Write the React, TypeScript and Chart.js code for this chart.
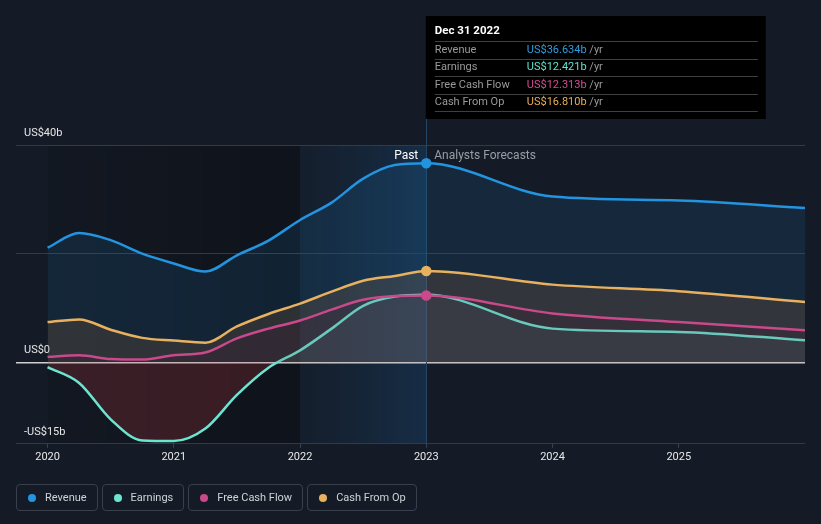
import React, { useEffect, useRef } from 'react';
import { Chart, registerables } from 'chart.js';

Chart.register(...registerables);

// ---- data ----
const years = [2020, 2020.25, 2020.5, 2020.75, 2021, 2021.25, 2021.5, 2021.75, 2022, 2022.25, 2022.5, 2022.75, 2023, 2024, 2025, 2026];
const revenue = [21.1, 23.8, 22.5, 20.0, 18.2, 16.7, 19.7, 22.4, 26.2, 29.4, 33.8, 36.3, 36.634, 30.5, 29.8, 28.4];
const earnings = [-0.9, -3.8, -10.5, -14.4, -14.5, -12.2, -6.0, -1.0, 2.2, 6.2, 10.4, 12.1, 12.421, 6.2, 5.6, 4.05];
const freeCashFlow = [1.0, 1.3, 0.6, 0.5, 1.3, 1.8, 4.4, 6.2, 7.7, 9.7, 11.5, 12.2, 12.313, 9.0, 7.4, 5.9];
const cashFromOp = [7.4, 7.9, 6.0, 4.5, 4.0, 3.6, 6.6, 8.9, 10.8, 13.0, 15.0, 15.9, 16.81, 14.3, 13.1, 11.1];

const xTickYears = [2020, 2021, 2022, 2023, 2024, 2025];
const yTickValues = [-15, 0, 20, 40];
const yTickLabels = ['-US$15b', 'US$0', '', 'US$40b'];

const seriesNames = ['Revenue', 'Earnings', 'Free Cash Flow', 'Cash From Op'];
const seriesColors = ['#2394df', '#6ce5d0', '#c9498b', '#e8b160'];
const tooltipTitle = 'Dec 31 2022';
const tooltipValues = ['US$36.634b', 'US$12.421b', 'US$12.313b', 'US$16.810b'];
const tooltipValueColors = ['#2d9ee0', '#5fe3cb', '#d24e93', '#e9ae55'];

const pastStart = 2020;
const highlightStart = 2022;
const highlightEnd = 2023;

const BG = '#151b26';

const decorPlugin = {
  id: 'decor',
  beforeDraw(chart: any) {
    const { ctx, chartArea: a, scales } = chart;
    const x = scales.x;
    const x0 = x.getPixelForValue(pastStart);
    const x1 = x.getPixelForValue(highlightStart);
    const x2 = x.getPixelForValue(highlightEnd);
    ctx.save();
    const g = ctx.createLinearGradient(x0, 0, x1, 0);
    g.addColorStop(0, 'rgba(0,0,0,0.10)');
    g.addColorStop(1, 'rgba(0,0,0,0.28)');
    ctx.fillStyle = g;
    ctx.fillRect(x0, a.top, x1 - x0, a.bottom - a.top);
    const h = ctx.createLinearGradient(x1, 0, x2, 0);
    h.addColorStop(0, 'rgba(25,100,170,0.05)');
    h.addColorStop(1, 'rgba(30,120,200,0.20)');
    ctx.fillStyle = h;
    ctx.fillRect(x1, a.top, x2 - x1, a.bottom - a.top);
    ctx.restore();
  },
  beforeDatasetsDraw(chart: any) {
    const { ctx, chartArea: a } = chart;
    const x2 = Math.round(chart.scales.x.getPixelForValue(highlightEnd)) + 0.5;
    ctx.save();
    ctx.strokeStyle = '#244563';
    ctx.lineWidth = 1;
    ctx.beginPath();
    ctx.moveTo(x2, 119);
    ctx.lineTo(x2, a.bottom);
    ctx.stroke();
    ctx.restore();
  },
  afterDraw(chart: any) {
    const { ctx, scales } = chart;
    const x2 = scales.x.getPixelForValue(highlightEnd);
    const yTop = scales.y.getPixelForValue(40);
    ctx.save();
    ctx.textBaseline = 'middle';
    ctx.font = '12px Roboto';
    ctx.fillStyle = '#ffffff';
    ctx.textAlign = 'right';
    ctx.fillText('Past', x2 - 8, yTop + 11);
    ctx.fillStyle = '#9a9ea6';
    ctx.textAlign = 'left';
    ctx.fillText('Analysts Forecasts', x2 + 8, yTop + 11);

    // tooltip box
    const bx = x2 - 0.5;
    const by = 16;
    const bw = 340;
    const bh = 103;
    ctx.fillStyle = '#000000';
    ctx.fillRect(bx, by, bw, bh);
    ctx.font = 'bold 11.5px Roboto';
    ctx.fillStyle = '#ffffff';
    ctx.fillText(tooltipTitle, bx + 9, 31);
    ctx.strokeStyle = '#3f3f3f';
    ctx.lineWidth = 1;
    for (let i = 0; i < 5; i++) {
      const ly = Math.round(41 + i * 17.5) + 0.5;
      ctx.beginPath();
      ctx.moveTo(bx + 9, ly);
      ctx.lineTo(bx + bw - 8, ly);
      ctx.stroke();
    }
    ctx.font = '11px Roboto';
    for (let i = 0; i < 4; i++) {
      const ty = 49.8 + i * 17.5;
      ctx.fillStyle = '#9a9a9a';
      ctx.fillText(seriesNames[i], bx + 9, ty);
      ctx.fillStyle = tooltipValueColors[i];
      ctx.fillText(tooltipValues[i], bx + 101, ty);
      const w = ctx.measureText(tooltipValues[i] + ' ').width;
      ctx.fillStyle = '#9a9a9a';
      ctx.fillText('/yr', bx + 101 + w, ty);
    }
    ctx.restore();
  },
};

const toPoints = (vals: number[]) => vals.map((v, i) => ({ x: years[i], y: v }));

export default function App() {
  const ref = useRef<HTMLCanvasElement>(null);

  useEffect(() => {
    if (!ref.current) return;
    Chart.defaults.font.family = 'Roboto';
    const pointR = (r: number) => (c: any) => (c.raw && c.raw.x === highlightEnd ? r : 0);
    const chart = new Chart(ref.current, {
      type: 'line',
      data: {
        datasets: [
          {
            label: seriesNames[0],
            data: toPoints(revenue),
            borderColor: seriesColors[0],
            backgroundColor: 'rgba(35,148,223,0.12)',
            pointBackgroundColor: seriesColors[0],
            fill: 'origin',
            order: 4,
            pointRadius: pointR(4.5),
          },
          {
            label: seriesNames[3],
            data: toPoints(cashFromOp),
            borderColor: seriesColors[3],
            backgroundColor: 'rgba(240,150,60,0.13)',
            pointBackgroundColor: seriesColors[3],
            fill: 'origin',
            order: 3,
            pointRadius: pointR(4.5),
          },
          {
            label: seriesNames[1],
            data: toPoints(earnings),
            borderColor: seriesColors[1],
            backgroundColor: 'rgba(100,190,180,0.1)',
            fill: { target: 'origin', above: 'rgba(100,190,180,0.1)', below: 'rgba(220,60,65,0.2)' },
            order: 2,
            pointRadius: 0,
          },
          {
            label: seriesNames[2],
            data: toPoints(freeCashFlow),
            borderColor: seriesColors[2],
            backgroundColor: 'rgba(80,0,50,0.12)',
            pointBackgroundColor: seriesColors[2],
            fill: 'origin',
            order: 1,
            pointRadius: pointR(4.5),
          },
        ] as any,
      },
      options: {
        animation: false,
        responsive: false,
        maintainAspectRatio: false,
        layout: { padding: { left: 0, right: 16, top: 145, bottom: 57 } },
        elements: {
          line: { borderWidth: 2.5, cubicInterpolationMode: 'monotone' },
          point: { borderColor: '#ffffff', borderWidth: 1.5, hoverRadius: 0, hitRadius: 0 },
        },
        plugins: {
          legend: { display: false },
          tooltip: { enabled: false },
        },
        events: [],
        scales: {
          x: {
            type: 'linear',
            min: 2019.75,
            max: 2026,
            afterBuildTicks: (s: any) => {
              s.ticks = xTickYears.map((v) => ({ value: v }));
            },
            ticks: {
              color: '#e8e8e8',
              font: { size: 11 },
              padding: 3,
              maxRotation: 0,
              callback: (v: any) => String(v),
            },
            grid: {
              drawOnChartArea: false,
              drawTicks: true,
              tickLength: 4,
              color: '#3d434c',
            },
            border: { display: false },
          },
          y: {
            type: 'linear',
            min: -15,
            max: 40,
            afterBuildTicks: (s: any) => {
              s.ticks = yTickValues.map((v) => ({ value: v }));
            },
            ticks: {
              mirror: true,
              padding: 8,
              labelOffset: -12,
              color: '#e6e6e6',
              font: { size: 11 },
              callback: (v: any) => {
                const i = yTickValues.indexOf(Number(v));
                return i >= 0 ? yTickLabels[i] : '';
              },
            },
            grid: {
              drawTicks: false,
              color: (c: any) => (c.tick && c.tick.value === 0 ? '#d0d0d0' : '#333a45'),
              lineWidth: (c: any) => (c.tick && c.tick.value === 0 ? 1.5 : 1),
            },
            border: { display: false },
          },
        },
      } as any,
      plugins: [decorPlugin],
    });
    return () => chart.destroy();
  }, []);

  return (
    <div style={{ position: 'fixed', left: 0, top: 0, width: 821, height: 524, background: BG, overflow: 'hidden' }}>
      <canvas ref={ref} width={821} height={524} style={{ display: 'block', width: 821, height: 524 }} />
      <div style={{ position: 'absolute', left: 16, top: 484, display: 'flex', gap: 4 }}>
        {seriesNames.map((n, i) => (
          <div
            key={n}
            style={{
              height: 27,
              boxSizing: 'border-box',
              border: '1px solid #3a404b',
              borderRadius: 4,
              display: 'flex',
              alignItems: 'center',
              padding: '0 10px 0 11px',
              fontFamily: 'Roboto',
              fontSize: 11,
              color: '#cfd3d8',
              whiteSpace: 'nowrap',
            }}
          >
            <span style={{ width: 8, height: 8, borderRadius: '50%', background: seriesColors[i], marginRight: 9, display: 'inline-block', flex: 'none' }} />
            {n}
          </div>
        ))}
      </div>
    </div>
  );
}
